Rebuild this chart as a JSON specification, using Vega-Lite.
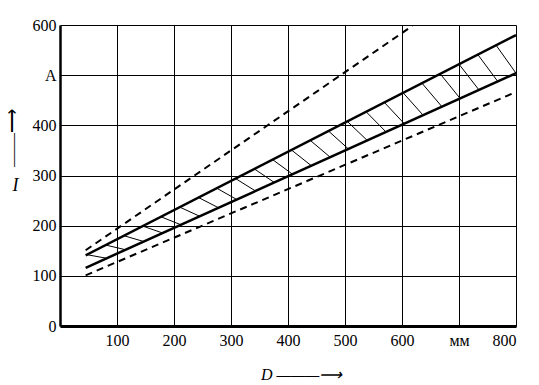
{
  "$schema": "https://vega.github.io/schema/vega-lite/v6.json",
  "width": 456,
  "height": 301,
  "autosize": "none",
  "padding": {"left": 60, "top": 25, "right": 23, "bottom": 59},
  "background": "white",
  "title": {"text": "——⟶", "orient": "left", "anchor": "end", "font": "Liberation Serif", "fontSize": 17, "fontWeight": "normal", "color": "black", "offset": -10, "dx": -92},
  "config": {"view": {"stroke": null}},
  "datasets": {
    "solid": [
      {"D": 45, "I": 141, "s": "upper"}, {"D": 800, "I": 580, "s": "upper"},
      {"D": 45, "I": 116, "s": "lower"}, {"D": 800, "I": 504, "s": "lower"}
    ],
    "dashed": [
      {"D": 45, "I": 151, "s": "upper"}, {"D": 618, "I": 598, "s": "upper"},
      {"D": 45, "I": 101, "s": "lower"}, {"D": 795, "I": 464, "s": "lower"}
    ],
    "hatch": [
      {"D": 47, "I": 142.2, "D2": 82, "I2": 135.0},
      {"D": 80, "I": 161.4, "D2": 115, "I2": 152.0},
      {"D": 112, "I": 180.0, "D2": 147, "I2": 168.4},
      {"D": 145, "I": 199.2, "D2": 180, "I2": 185.4},
      {"D": 177, "I": 217.8, "D2": 212, "I2": 201.8},
      {"D": 210, "I": 237.0, "D2": 245, "I2": 218.8},
      {"D": 243, "I": 256.1, "D2": 278, "I2": 235.7},
      {"D": 275, "I": 274.7, "D2": 310, "I2": 252.2},
      {"D": 308, "I": 293.9, "D2": 343, "I2": 269.1},
      {"D": 341, "I": 313.1, "D2": 376, "I2": 286.1},
      {"D": 373, "I": 331.7, "D2": 408, "I2": 302.5},
      {"D": 406, "I": 350.9, "D2": 441, "I2": 319.5},
      {"D": 439, "I": 370.1, "D2": 474, "I2": 336.5},
      {"D": 471, "I": 388.7, "D2": 506, "I2": 352.9},
      {"D": 504, "I": 407.9, "D2": 539, "I2": 369.9},
      {"D": 537, "I": 427.1, "D2": 572, "I2": 386.8},
      {"D": 569, "I": 445.7, "D2": 604, "I2": 403.3},
      {"D": 602, "I": 464.9, "D2": 637, "I2": 420.2},
      {"D": 635, "I": 484.1, "D2": 670, "I2": 437.2},
      {"D": 667, "I": 502.7, "D2": 702, "I2": 453.6},
      {"D": 700, "I": 521.9, "D2": 735, "I2": 470.6},
      {"D": 733, "I": 541.1, "D2": 768, "I2": 487.5},
      {"D": 765, "I": 559.7, "D2": 800, "I2": 504.0}
    ]
  },
  "layer": [
    {
      "data": {"name": "solid"},
      "mark": {"type": "line", "color": "black", "strokeWidth": 2.5},
      "encoding": {
        "x": {"field": "D", "type": "quantitative",
          "scale": {"domain": [0, 800], "nice": false},
          "axis": {"values": [100, 200, 300, 400, 500, 600, 700, 800],
            "labelExpr": "datum.value == 700 ? 'мм' : datum.label",
            "grid": true, "gridColor": "black", "gridOpacity": 1, "gridWidth": 1,
            "domainColor": "black", "domainWidth": 3, "ticks": false,
            "labelFont": "Liberation Serif", "labelFontSize": 16, "labelColor": "black", "labelPadding": 6, "labelDx": 3,
            "title": "D ———⟶", "titleFont": "Liberation Serif", "titleFontSize": 16, "titleFontStyle": "italic", "titleFontWeight": "normal",
            "titleColor": "black", "titleX": 241, "titleY": 48, "titleAlign": "center", "titleBaseline": "middle"}},
        "y": {"field": "I", "type": "quantitative",
          "scale": {"domain": [0, 600], "nice": false},
          "axis": {"values": [0, 100, 200, 300, 400, 500, 600],
            "labelExpr": "datum.value == 500 ? 'A' : datum.label",
            "grid": true, "gridColor": "black", "gridOpacity": 1, "gridWidth": 1,
            "domainColor": "black", "domainWidth": 2.5, "ticks": false,
            "labelFont": "Liberation Serif", "labelFontSize": 16, "labelColor": "black", "labelPadding": 4,
            "title": "I", "titleAngle": 0, "titleFont": "Liberation Serif", "titleFontSize": 18, "titleFontStyle": "italic", "titleFontWeight": "normal",
            "titleColor": "black", "titleX": -45, "titleY": 160, "titleAlign": "center", "titleBaseline": "middle"}},
        "detail": {"field": "s"}
      }
    },
    {
      "data": {"name": "dashed"},
      "mark": {"type": "line", "color": "black", "strokeWidth": 2, "strokeDash": [7, 5]},
      "encoding": {
        "x": {"field": "D", "type": "quantitative"},
        "y": {"field": "I", "type": "quantitative"},
        "detail": {"field": "s"}
      }
    },
    {
      "data": {"name": "hatch"},
      "mark": {"type": "rule", "color": "black", "strokeWidth": 1},
      "encoding": {
        "x": {"field": "D", "type": "quantitative"},
        "y": {"field": "I", "type": "quantitative"},
        "x2": {"field": "D2"},
        "y2": {"field": "I2"}
      }
    }
  ]
}
